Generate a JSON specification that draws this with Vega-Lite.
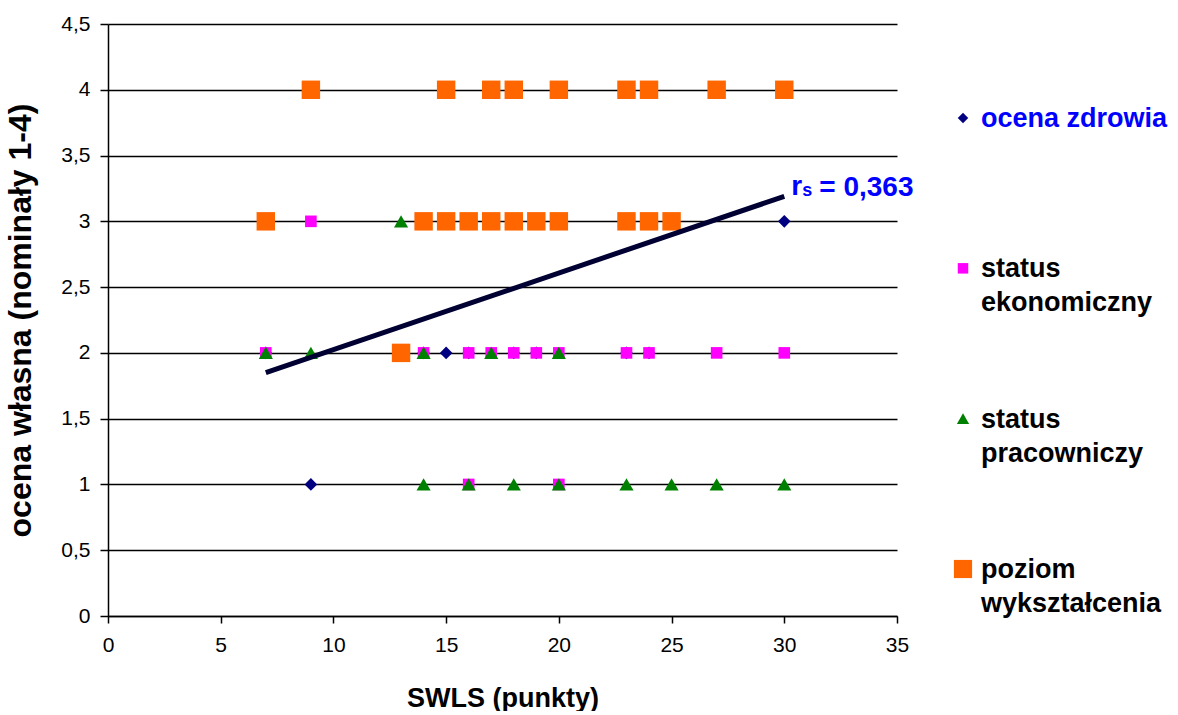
{
  "$schema": "https://vega.github.io/schema/vega-lite/v6.json",
  "background": "white",
  "padding": {"left": 4, "top": 13, "right": 0, "bottom": 0},
  "bounds": "flush",
  "spacing": 56,
  "config": {"view": {"stroke": null}, "font": "Liberation Sans"},
  "datasets": {
    "pts": [
      {"s": "ocena zdrowia", "x": 9, "y": 1},
      {"s": "ocena zdrowia", "x": 7, "y": 2},
      {"s": "ocena zdrowia", "x": 14, "y": 2},
      {"s": "ocena zdrowia", "x": 15, "y": 2},
      {"s": "ocena zdrowia", "x": 16, "y": 2},
      {"s": "ocena zdrowia", "x": 18, "y": 2},
      {"s": "ocena zdrowia", "x": 19, "y": 2},
      {"s": "ocena zdrowia", "x": 23, "y": 2},
      {"s": "ocena zdrowia", "x": 24, "y": 2},
      {"s": "ocena zdrowia", "x": 30, "y": 3},
      {"s": "status ekonomiczny", "x": 9, "y": 3},
      {"s": "status ekonomiczny", "x": 7, "y": 2},
      {"s": "status ekonomiczny", "x": 14, "y": 2},
      {"s": "status ekonomiczny", "x": 16, "y": 2},
      {"s": "status ekonomiczny", "x": 17, "y": 2},
      {"s": "status ekonomiczny", "x": 18, "y": 2},
      {"s": "status ekonomiczny", "x": 19, "y": 2},
      {"s": "status ekonomiczny", "x": 20, "y": 2},
      {"s": "status ekonomiczny", "x": 23, "y": 2},
      {"s": "status ekonomiczny", "x": 24, "y": 2},
      {"s": "status ekonomiczny", "x": 27, "y": 2},
      {"s": "status ekonomiczny", "x": 30, "y": 2},
      {"s": "status ekonomiczny", "x": 16, "y": 1},
      {"s": "status ekonomiczny", "x": 20, "y": 1},
      {"s": "status pracowniczy", "x": 13, "y": 3},
      {"s": "status pracowniczy", "x": 7, "y": 2},
      {"s": "status pracowniczy", "x": 9, "y": 2},
      {"s": "status pracowniczy", "x": 14, "y": 2},
      {"s": "status pracowniczy", "x": 17, "y": 2},
      {"s": "status pracowniczy", "x": 20, "y": 2},
      {"s": "status pracowniczy", "x": 14, "y": 1},
      {"s": "status pracowniczy", "x": 16, "y": 1},
      {"s": "status pracowniczy", "x": 18, "y": 1},
      {"s": "status pracowniczy", "x": 20, "y": 1},
      {"s": "status pracowniczy", "x": 23, "y": 1},
      {"s": "status pracowniczy", "x": 25, "y": 1},
      {"s": "status pracowniczy", "x": 27, "y": 1},
      {"s": "status pracowniczy", "x": 30, "y": 1},
      {"s": "poziom wykształcenia", "x": 13, "y": 2},
      {"s": "poziom wykształcenia", "x": 7, "y": 3},
      {"s": "poziom wykształcenia", "x": 14, "y": 3},
      {"s": "poziom wykształcenia", "x": 15, "y": 3},
      {"s": "poziom wykształcenia", "x": 16, "y": 3},
      {"s": "poziom wykształcenia", "x": 17, "y": 3},
      {"s": "poziom wykształcenia", "x": 18, "y": 3},
      {"s": "poziom wykształcenia", "x": 19, "y": 3},
      {"s": "poziom wykształcenia", "x": 20, "y": 3},
      {"s": "poziom wykształcenia", "x": 23, "y": 3},
      {"s": "poziom wykształcenia", "x": 24, "y": 3},
      {"s": "poziom wykształcenia", "x": 25, "y": 3},
      {"s": "poziom wykształcenia", "x": 9, "y": 4},
      {"s": "poziom wykształcenia", "x": 15, "y": 4},
      {"s": "poziom wykształcenia", "x": 17, "y": 4},
      {"s": "poziom wykształcenia", "x": 18, "y": 4},
      {"s": "poziom wykształcenia", "x": 20, "y": 4},
      {"s": "poziom wykształcenia", "x": 23, "y": 4},
      {"s": "poziom wykształcenia", "x": 24, "y": 4},
      {"s": "poziom wykształcenia", "x": 27, "y": 4},
      {"s": "poziom wykształcenia", "x": 30, "y": 4}
    ],
    "trend": [
      {"x": 7, "y": 1.85},
      {"x": 30, "y": 3.19}
    ],
    "legend": [
      {"s": "ocena zdrowia", "label": "ocena zdrowia"},
      {"s": "status ekonomiczny", "label": "\u00a0status\nekonomiczny"},
      {"s": "status pracowniczy", "label": "\u00a0status\npracowniczy"},
      {"s": "poziom wykształcenia", "label": "poziom\nwykształcenia"}
    ]
  },
  "resolve": {"scale": {"size": "independent", "shape": "independent", "color": "independent"}},
  "hconcat": [
    {
      "width": 789,
      "height": 592,
      "layer": [
        {
          "data": {"name": "pts"},
          "mark": {"type": "point", "filled": true, "opacity": 1},
          "encoding": {
            "x": {
              "field": "x", "type": "quantitative",
              "scale": {"domain": [0, 35], "nice": false, "zero": false},
              "axis": {
                "title": "SWLS (punkty)",
                "values": [0, 5, 10, 15, 20, 25, 30, 35],
                "grid": false,
                "labelFlush": false,
                "domainColor": "black", "domainWidth": 1.5,
                "tickColor": "black", "tickWidth": 1.5, "tickSize": 7,
                "labelFontSize": 21, "labelColor": "black", "labelPadding": 11,
                "labelFont": "Liberation Sans",
                "titleFont": "Liberation Sans",
                "titleFontSize": 27, "titleFontWeight": "bold", "titleColor": "black",
                "titlePadding": 30
              }
            },
            "y": {
              "field": "y", "type": "quantitative",
              "scale": {"domain": [0, 4.5], "nice": false, "zero": false},
              "axis": {
                "title": "ocena własna (nominały 1-4)",
                "values": [0, 0.5, 1, 1.5, 2, 2.5, 3, 3.5, 4, 4.5],
                "labelExpr": "replace(format(datum.value, '~g'), '.', ',')",
                "labelFlush": false,
                "grid": true, "gridColor": "black", "gridWidth": 1.5, "gridOpacity": 1,
                "domainColor": "black", "domainWidth": 1.5,
                "tickColor": "black", "tickWidth": 1.5, "tickSize": 8,
                "labelFontSize": 21, "labelColor": "black", "labelPadding": 10,
                "labelFont": "Liberation Sans",
                "titleFont": "Liberation Sans",
                "titleFontSize": 32, "titleFontWeight": "bold", "titleColor": "black",
                "titlePadding": 23
              }
            },
            "shape": {
              "field": "s", "type": "nominal",
              "scale": {
                "type": "ordinal",
                "domain": ["ocena zdrowia", "status ekonomiczny", "status pracowniczy", "poziom wykształcenia"],
                "range": ["diamond", "square", "triangle-up", "square"]
              },
              "legend": null
            },
            "color": {
              "field": "s", "type": "nominal",
              "scale": {
                "type": "ordinal",
                "domain": ["ocena zdrowia", "status ekonomiczny", "status pracowniczy", "poziom wykształcenia"],
                "range": ["#000080", "#ff00ff", "#008000", "#ff6600"]
              },
              "legend": null
            },
            "size": {
              "field": "s", "type": "nominal",
              "scale": {
                "type": "ordinal",
                "domain": ["ocena zdrowia", "status ekonomiczny", "status pracowniczy", "poziom wykształcenia"],
                "range": [160, 135, 200, 340]
              },
              "legend": null
            }
          }
        },
        {
          "data": {"name": "trend"},
          "mark": {"type": "line", "color": "#000033", "strokeWidth": 5},
          "encoding": {
            "x": {"field": "x", "type": "quantitative"},
            "y": {"field": "y", "type": "quantitative"}
          }
        },
        {
          "data": {"name": "trend"},
          "transform": [{"filter": "datum.x == 30"}],
          "layer": [
            {
              "mark": {"type": "text", "text": "r", "align": "left", "baseline": "alphabetic", "dx": 7, "dy": -1, "fontSize": 28, "fontWeight": "bold", "color": "#0000ff", "font": "Liberation Sans"},
              "encoding": {"x": {"field": "x", "type": "quantitative"}, "y": {"field": "y", "type": "quantitative"}}
            },
            {
              "mark": {"type": "text", "text": "s", "align": "left", "baseline": "alphabetic", "dx": 18, "dy": 0, "fontSize": 18, "fontWeight": "bold", "color": "#0000ff", "font": "Liberation Sans"},
              "encoding": {"x": {"field": "x", "type": "quantitative"}, "y": {"field": "y", "type": "quantitative"}}
            },
            {
              "mark": {"type": "text", "text": "= 0,363", "align": "left", "baseline": "alphabetic", "dx": 35, "dy": 0, "fontSize": 28, "fontWeight": "bold", "color": "#0000ff", "font": "Liberation Sans"},
              "encoding": {"x": {"field": "x", "type": "quantitative"}, "y": {"field": "y", "type": "quantitative"}}
            }
          ]
        }
      ]
    },
    {
      "width": 20,
      "height": 592,
      "data": {"name": "legend"},
      "layer": [
        {
          "mark": {"type": "point", "filled": true, "opacity": 1},
          "encoding": {
            "y": {
              "field": "s", "type": "nominal",
              "scale": {"type": "point", "domain": ["ocena zdrowia", "status ekonomiczny", "status pracowniczy", "poziom wykształcenia"], "range": [94, 545], "padding": 0},
              "axis": null
            },
            "shape": {
              "field": "s", "type": "nominal",
              "scale": {"type": "ordinal", "domain": ["ocena zdrowia", "status ekonomiczny", "status pracowniczy", "poziom wykształcenia"], "range": ["diamond", "square", "triangle-up", "square"]},
              "legend": null
            },
            "color": {
              "field": "s", "type": "nominal",
              "scale": {"type": "ordinal", "domain": ["ocena zdrowia", "status ekonomiczny", "status pracowniczy", "poziom wykształcenia"], "range": ["#000080", "#ff00ff", "#008000", "#ff6600"]},
              "legend": null
            },
            "size": {
              "field": "s", "type": "nominal",
              "scale": {"type": "ordinal", "domain": ["ocena zdrowia", "status ekonomiczny", "status pracowniczy", "poziom wykształcenia"], "range": [110, 110, 150, 330]},
              "legend": null
            }
          }
        },
        {
          "mark": {"type": "text", "align": "left", "baseline": "alphabetic", "dx": 18, "dy": 9, "fontSize": 27, "fontWeight": "bold", "lineBreak": "\n", "lineHeight": 34, "font": "Liberation Sans"},
          "encoding": {
            "y": {"field": "s", "type": "nominal"},
            "text": {"field": "label"},
            "color": {"condition": {"test": "datum.s == 'ocena zdrowia'", "value": "#0000ff"}, "value": "black"}
          }
        }
      ]
    }
  ]
}
